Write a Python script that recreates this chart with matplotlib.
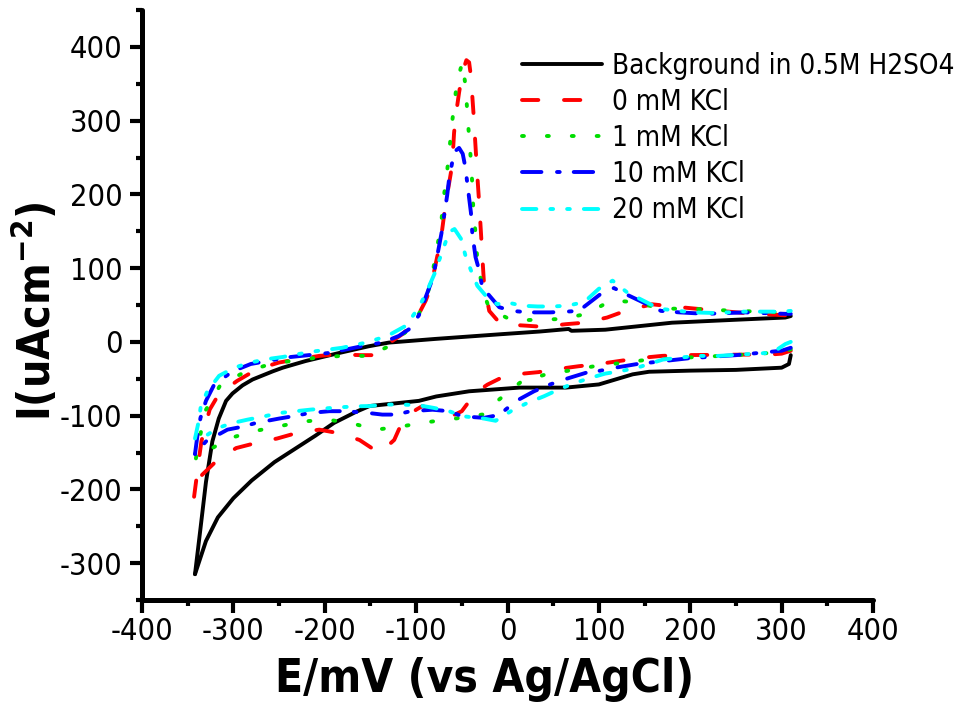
import matplotlib
matplotlib.use("Agg")
import matplotlib.pyplot as plt
from matplotlib import font_manager as fm
from matplotlib.ticker import MultipleLocator

# ---------------- data ----------------
labels = ["Background in 0.5M H2SO4", "0 mM KCl", "1 mM KCl", "10 mM KCl", "20 mM KCl"]

bg_up_E = [-342, -336, -330, -323, -316, -308, -301, -290, -279, -257, -246, -221, -184, -152, -130, -79, -6, 35, 67, 70, 107,
           180, 250, 304, 310]
bg_up_I = [-315, -253, -190, -135, -104, -80, -70, -59, -51, -40, -35, -26, -15, -6, -1, 4, 10.5, 14, 17.5, 15, 16.5,
           26, 30, 33, 35]
bg_dn_E = [310, 308, 300, 250, 200, 155, 137, 100, 64, 13, -42, -78, -97, -151, -166, -190, -210, -230, -255, -280, -300,
           -317, -330, -342]
bg_dn_I = [-18, -30, -35, -38, -39, -40.5, -44, -57.7, -62, -62, -67, -74, -80, -87, -95, -110, -127, -143, -163, -188, -212,
           -238, -270, -315]

k0_up_E = [-343, -337, -335, -326, -316, -296, -274, -250, -232, -206, -186, -160, -148, -144, -130, -115, -104, -97, -89.5, -84,
           -77, -73, -68, -62, -60, -58.5, -56.7, -53, -49.4, -45, -42, -40, -37, -35, -33, -31, -29, -27.5, -25.7, -22, -20,
           -7.4, 20, 38, 64, 84, 109, 129, 158, 173, 206, 260, 304, 310]
k0_up_I = [-210, -153, -135, -92, -71, -53, -37, -28, -24, -19, -17, -18, -18, -12, -2, 10.5, 24, 38, 56, 74,
           115, 138, 185, 229, 251, 283, 306, 338, 365, 382, 379, 360, 306, 265, 225, 188, 147, 115, 79, 55, 42,
           24, 22, 20.5, 24, 26, 33, 42, 51, 49, 45, 39, 36, 37]
k0_dn_E = [310, 300, 289, 188, 169, 144, 122, 100, 78, 54, 34, 9, -9, -22, -35, -50, -60, -75, -93, -100, -115, -124, -140,
           -162, -184, -206, -232, -252, -275, -297, -319, -334, -341, -343]
k0_dn_I = [-12, -16, -17, -18, -19, -22, -26, -30, -33, -37, -41, -44, -50, -58, -69, -94, -100, -96, -87, -92, -108, -133, -151,
           -133, -124, -119, -124, -131, -137, -144, -162, -180, -190, -210]

k1_up_E = [-341, -336, -330, -314, -286, -259, -232, -206, -181, -152, -130, -104, -90, -83, -78.5, -73, -70.6, -67, -64, -61.5,
           -58.5, -55, -49.4, -45.7, -44, -42, -40, -38.5, -37.4, -34.8, -33, -27, -20, 5, 33, 58, 87, 113, 140, 168, 200,
           250, 304, 310]
k1_up_I = [-158, -125, -92, -58, -40, -30, -25, -21, -19, -19, -6, 21, 55, 85, 120, 154, 188, 222, 254, 288,
           320, 354, 379, 345, 311, 277, 245, 213, 179, 145, 110, 70, 45, 29, 30, 31, 38, 56, 54, 45, 45,
           42, 40, 40]
k1_dn_E = [310, 300, 250, 200, 148, 122, 95, 67, 42, 14, -11, -25, -45, -70, -95, -117, -144, -171.5, -197, -224.5, -252,
           -277, -305, -330, -341]
k1_dn_I = [-10, -14, -18, -21, -25, -29, -33, -39, -44, -55, -80, -98, -102, -106, -110, -115, -119, -110, -105.5, -108, -115,
           -121, -131, -149, -158]

k10_up_E = [-342, -339, -336, -330, -321, -301, -281, -263, -241, -210, -195, -152, -137, -119, -108, -97, -84, -80, -75, -72,
            -69.5, -66, -64, -60, -56, -53, -49, -46, -44, -40, -38.5, -35, -31, -27.6, -9, 5, 23.5, 47, 64, 78, 102,
            116.5, 129, 168, 188, 217, 260, 304, 310]
k10_up_I = [-152, -124, -103, -80, -58, -40, -30, -26, -21, -17, -15, -4, -1, 8, 17, 36, 79, 97, 129, 149,
            170, 199, 220, 247, 260, 263, 255, 236, 215, 175, 147, 115, 97, 74, 47, 42, 40, 40, 41, 42, 65,
            73, 65, 42, 40, 38, 40, 38, 38]
k10_dn_E = [310, 300, 250, 200, 142, 118, 102, 85.6, 62, 46, 29, 9, -9, -25.7, -49.5, -64, -82, -106, -122, -137, -151.5,
            -177, -195, -217, -235.5, -250, -275.5, -290, -306.5, -330, -342]
k10_dn_I = [-8, -12, -18, -22, -30, -35, -39, -42, -51, -58, -67, -80.5, -99, -103, -101, -94, -92, -94, -98.6, -98.6, -96.5,
            -94, -94, -96.5, -101, -104, -110, -115, -119, -135, -152]

k20_up_E = [-342, -338, -335.6, -328.5, -315.6, -299, -281, -264.6, -246, -230, -213.5, -181, -155, -131.5, -111, -97, -89.5,
            -80, -75, -69.5, -64, -58, -51, -46, -40, -33, -22, -11, -2, 16, 33, 49, 65.5, 84, 100, 115, 131, 166, 202,
            231, 250, 268, 286, 301, 310]
k20_up_I = [-131, -108, -87, -67, -46, -35, -28, -23.6, -20.5, -16.8, -13.2, -8, -1, 8, 22, 47, 65,
            92, 110, 129, 149, 153, 140, 117, 97, 76, 60, 51, 54, 49, 48, 48, 49, 54, 72, 83, 67, 45, 40,
            39, 41, 41, 41, 41, 42]
k20_dn_E = [310, 304, 290, 231, 206, 170, 142, 124, 107, 91, 74, 56, 40, 21.7, 5, -13, -25.7, -47.6, -64, -80.4, -97, -115,
            -131.5, -151.5, -162.5, -184, -215, -231.7, -250, -266.4, -284.7, -301, -317.5, -334, -342]
k20_dn_I = [0, -3, -14.6, -19, -19, -24, -35, -39.6, -43, -48.7, -55.5, -64.5, -73.7, -82.8, -93, -107, -104, -101, -94, -89.6,
            -86, -85, -85, -87, -87.3, -88.7, -91.8, -94, -96.5, -101, -105.5, -110, -117, -130.6, -131]

# ---------------- fonts ----------------
plt.rcParams["axes.unicode_minus"] = False
cond = any(f.name == "DejaVu Sans" and f.stretch == "condensed" for f in fm.fontManager.ttflist)
plt.rcParams["font.family"] = ["DejaVu Sans"]
if cond:
    plt.rcParams["font.stretch"] = "condensed"
TICK_FS = 22 if cond else 19
LEG_FS = 20 if cond else 17

fig = plt.figure(figsize=(9.64, 7.06), dpi=100)
ax = fig.add_axes([142 / 964, 1 - 600 / 706, (873 - 142) / 964, (600 - 10) / 706])

LW = 2.8
series = [
    (bg_up_E, bg_up_I, bg_dn_E, bg_dn_I, "black", "-"),
    (k0_up_E, k0_up_I, k0_dn_E, k0_dn_I, "#FF0000", (0, (4.2, 6.6))),
    (k1_up_E, k1_up_I, k1_dn_E, k1_dn_I, "#00DD00", (0, (0.5, 5.9))),
    (k10_up_E, k10_up_I, k10_dn_E, k10_dn_I, "#0000FF", (0, (5.0, 4.0, 0.7, 3.6))),
    (k20_up_E, k20_up_I, k20_dn_E, k20_dn_I, "#00FFFF", (0, (3.7, 3.6, 0.7, 3.6, 0.7, 3.6))),
]
for (ue, ui, de, di, col, ls), lab in zip(series, labels):
    ax.plot(ue, ui, color=col, ls=ls, lw=LW, label=lab, dash_capstyle="round", solid_capstyle="round",
            solid_joinstyle="round")
    ax.plot(de, di, color=col, ls=ls, lw=LW, dash_capstyle="round", solid_capstyle="round",
            solid_joinstyle="round")

ax.set_xlim(-400, 400)
ax.set_ylim(-350, 450)
for s in ("top", "right"):
    ax.spines[s].set_visible(False)
for s in ("left", "bottom"):
    ax.spines[s].set_linewidth(3.6)
    ax.spines[s].set_capstyle("round")

ax.xaxis.set_major_locator(MultipleLocator(100))
ax.xaxis.set_minor_locator(MultipleLocator(50))
ax.set_yticks(range(-300, 401, 100))
ax.yaxis.set_minor_locator(MultipleLocator(50))
ax.tick_params(which="major", direction="out", length=9, width=3, labelsize=TICK_FS, pad=5)
ax.tick_params(axis="x", which="major", pad=3)
ax.tick_params(which="minor", direction="out", length=4.5, width=3)

ax.set_xlabel("E/mV (vs Ag/AgCl)", fontsize=33, fontweight="bold")
ax.xaxis.set_label_coords(0.469, -0.097)
ax.xaxis.label.set_va("top")
ax.set_ylabel(r"I(uAcm$^{\mathbf{-2}}$)", fontsize=32, fontweight="bold")
ax.yaxis.set_label_coords(-0.112, 0.49)

leg = ax.legend(loc="upper left", bbox_to_anchor=(522 / 964, 1 - 52 / 706), bbox_transform=fig.transFigure,
                frameon=False, fontsize=LEG_FS, handlelength=2.88, handletextpad=0.36, labelspacing=0.29,
                borderaxespad=0, borderpad=0)

fig.savefig("out.png", dpi=100)
